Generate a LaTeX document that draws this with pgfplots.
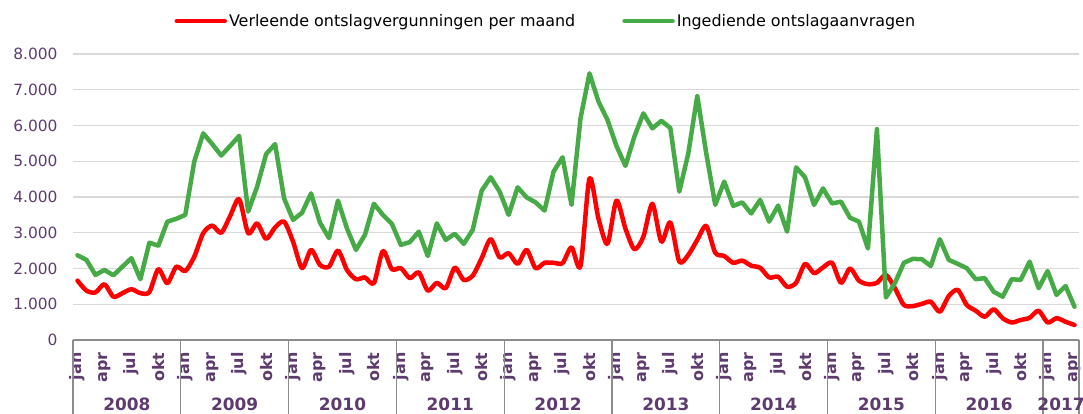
\documentclass[border=0pt]{standalone}
\usepackage{pgfplots}
\usepackage{pgfplotstable}
\pgfplotsset{compat=1.18}
\usepackage{fontspec}
\setmainfont{DejaVu Sans}
\definecolor{lblpurple}{RGB}{94,59,110}
\definecolor{cred}{RGB}{255,0,0}
\definecolor{cgreen}{RGB}{70,170,70}
\definecolor{gridgray}{RGB}{217,217,217}
\definecolor{sepgray}{RGB}{140,140,140}

\pgfplotstableread{
x g r
0 2370 1660
1 2240 1380
2 1820 1330
3 1960 1560
4 1810 1210
5 2050 1310
6 2290 1420
7 1700 1310
8 2720 1340
9 2640 1980
10 3310 1590
11 3390 2050
12 3500 1930
13 4990 2330
14 5780 2990
15 5480 3200
16 5160 3000
17 5430 3470
18 5710 3940
19 3590 2990
20 4290 3260
21 5200 2830
22 5480 3150
23 3960 3310
24 3360 2750
25 3560 2010
26 4100 2520
27 3280 2100
28 2850 2050
29 3900 2500
30 3120 1960
31 2520 1700
32 2940 1750
33 3810 1590
34 3500 2490
35 3250 1980
36 2660 2010
37 2740 1730
38 3030 1890
39 2350 1380
40 3260 1600
41 2800 1450
42 2970 2020
43 2690 1680
44 3080 1800
45 4180 2290
46 4550 2820
47 4150 2310
48 3500 2430
49 4270 2130
50 3990 2520
51 3850 2010
52 3620 2160
53 4710 2160
54 5110 2150
55 3780 2590
56 6200 2070
57 7460 4520
58 6670 3400
59 6160 2690
60 5430 3900
61 4870 3120
62 5690 2540
63 6340 2890
64 5920 3810
65 6130 2750
66 5930 3290
67 4150 2190
68 5220 2380
69 6830 2800
70 5220 3190
71 3780 2440
72 4430 2350
73 3750 2160
74 3850 2220
75 3540 2080
76 3920 2020
77 3310 1750
78 3760 1770
79 3030 1490
80 4830 1600
81 4550 2130
82 3780 1870
83 4240 2030
84 3820 2160
85 3870 1600
86 3420 2000
87 3310 1660
88 2560 1560
89 5900 1600
90 1190 1820
91 1590 1450
92 2160 980
93 2270 950
94 2260 1010
95 2070 1070
96 2820 790
97 2240 1230
98 2130 1400
99 2010 980
100 1700 820
101 1730 650
102 1350 860
103 1210 610
104 1700 490
105 1680 560
106 2190 620
107 1450 820
108 1930 490
109 1260 610
110 1510 510
111 930 420
}\data

\begin{document}
\begin{tikzpicture}
\path[use as bounding box] (0,0) rectangle (1083bp,414bp);
\begin{axis}[
  at={(73bp,74bp)}, anchor=south west,
  scale only axis, width=1006bp, height=286bp,
  xmin=-0.5, xmax=111.5, ymin=0, ymax=8000,
  clip=false,
  axis line style={draw=none},
  tick pos=left,
  major tick length=0pt,
  ytick={0,1000,...,8000},
  scaled y ticks=false,
  /pgf/number format/1000 sep={.},
  /pgf/number format/assume math mode=true,
  ymajorgrids,
  grid style={gridgray, line width=1.3bp},
  xtick={0,3,...,111},
  xticklabels={jan,apr,jul,okt,jan,apr,jul,okt,jan,apr,jul,okt,jan,apr,jul,okt,jan,apr,jul,okt,jan,apr,jul,okt,jan,apr,jul,okt,jan,apr,jul,okt,jan,apr,jul,okt,jan,apr},
  xticklabel style={rotate=90, anchor=east, font=\bfseries\fontsize{16}{16}\selectfont, text=lblpurple, xshift=-9bp},
  yticklabel style={font=\fontsize{15.5}{18}\selectfont, text=lblpurple, xshift=-12bp},
  legend style={at={(0.470,1.115)}, anchor=center, draw=none, fill=none,
    legend columns=2, font=\fontsize{16}{19}\selectfont,
    /tikz/every even column/.append style={column sep=45bp}},
  legend image code/.code={\draw[#1] (0bp,0bp) -- (48bp,0bp);},
]
\addplot[cred, line width=4.5bp, smooth, tension=0.45, line join=round, line cap=round] table[x=x,y=r]{\data};
\addplot[cgreen, line width=4.5bp, line join=round, line cap=round] table[x=x,y=g]{\data};
\legend{Verleende ontslagvergunningen per maand, Ingediende ontslagaanvragen}
\draw[sepgray, line width=1.3bp] (axis cs:-0.5,0) -- (axis cs:111.5,0);
\pgfplotsinvokeforeach{-0.5,11.5,23.5,35.5,47.5,59.5,71.5,83.5,95.5,107.5,111.5}{
  \draw[sepgray, line width=1.3bp] (axis cs:#1,0) -- ([yshift=-74bp]axis cs:#1,0);
}
\pgfplotsinvokeforeach{2008,2009,2010,2011,2012,2013,2014,2015,2016}{
  \node[font=\bfseries\fontsize{17}{17}\selectfont, text=lblpurple] at (axis cs:{(#1-2008)*12+5.5},0) [yshift=-64bp] {#1};
}
\node[font=\bfseries\fontsize{17}{17}\selectfont, text=lblpurple] at (axis cs:109.5,0) [yshift=-64bp] {2017};
\end{axis}
\end{tikzpicture}
\end{document}
